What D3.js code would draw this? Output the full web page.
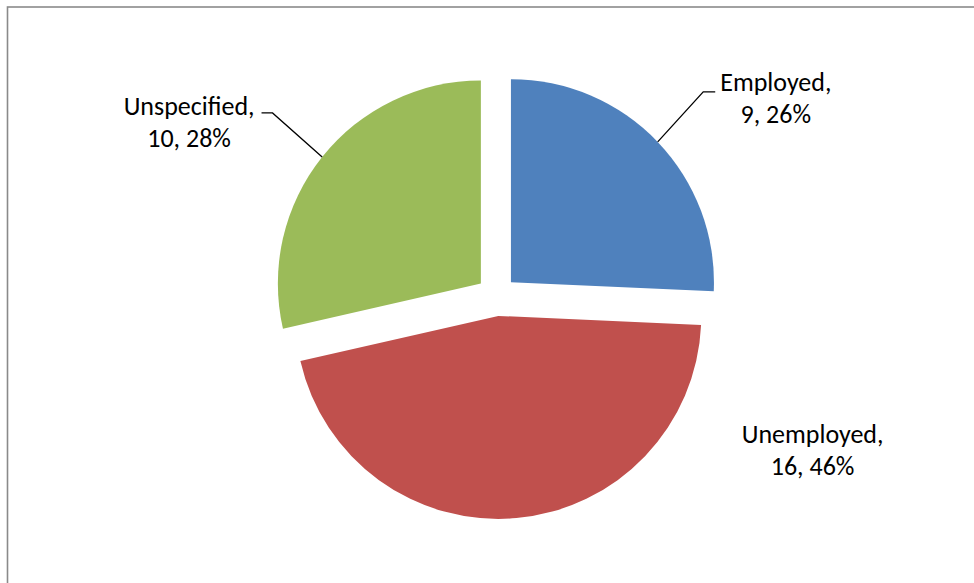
<!DOCTYPE html>
<html>
<head>
<meta charset="utf-8">
<script src="https://cdn.jsdelivr.net/npm/d3@7/dist/d3.min.js"></script>
<style>
  html, body { margin: 0; padding: 0; background: #fff; }
  svg { display: block; }
  text { font-family: Carlito, Calibri, Lato, "Noto Sans", sans-serif; fill: #000; }
</style>
</head>
<body>
<svg id="chart" width="974" height="583"></svg>
<script>
// Employment status counts
const categories = ["Employed", "Unemployed", "Unspecified"];
const counts = [9, 16, 10];
const percentLabels = ["26%", "46%", "28%"];
const colors = ["#4F81BD", "#C0504D", "#9BBB59"];

// Layout
const W = 974, H = 583;
const cx = 496.5, cy = 296;
const radius = 203;
const explode = 20;
// first-line baseline of each label, relative to pie centre:
// [angle in degrees clockwise from 12 o'clock, distance]
const labelPolar = [[53.7, 346.6], [114.9, 348.5], [300.5, 356.8]];
const showLeader = [true, false, true];
const lineGap = 32.5;
const fontSize = 26;

const svg = d3.select("#chart");

// chart area frame
svg.append("rect")
  .attr("x", 7.5).attr("y", 7)
  .attr("width", W + 20).attr("height", H + 20)
  .attr("fill", "#fff")
  .attr("stroke", "#8a8a8a")
  .attr("stroke-width", 1.6);

const data = categories.map((c, i) => ({ name: c, value: counts[i], pct: percentLabels[i], color: colors[i], i }));

const pie = d3.pie().value(d => d.value).sort(null).startAngle(0);
const arcs = pie(data);
const arc = d3.arc().innerRadius(0).outerRadius(radius);

const g = svg.append("g").attr("transform", `translate(${cx},${cy})`);

const offset = a => {
  const mid = (a.startAngle + a.endAngle) / 2;
  return [Math.sin(mid) * explode, -Math.cos(mid) * explode];
};

g.selectAll("path.slice")
  .data(arcs)
  .join("path")
  .attr("class", "slice")
  .attr("transform", d => { const [dx, dy] = offset(d); return `translate(${dx},${dy})`; })
  .attr("d", arc)
  .attr("fill", d => d.data.color);

// data labels
const labels = g.selectAll("g.label")
  .data(arcs)
  .join("g")
  .attr("class", "label");

const labelXY = i => {
  const [deg, dist] = labelPolar[i];
  const r = deg * Math.PI / 180;
  return [Math.sin(r) * dist, -Math.cos(r) * dist];
};

labels.each(function (d) {
  const i = d.data.i;
  const [lx, ly] = labelXY(i);
  const sel = d3.select(this);
  const t = sel.append("text")
    .attr("text-anchor", "middle")
    .attr("font-size", fontSize);
  t.append("tspan").attr("x", lx).attr("y", ly).text(d.data.name + ",");
  t.append("tspan").attr("x", lx).attr("y", ly + lineGap).text(d.value + ", " + d.data.pct);

  if (showLeader[i]) {
    const [dx, dy] = offset(d);
    const mid = (d.startAngle + d.endAngle) / 2;
    const p0 = [dx + Math.sin(mid) * radius, dy - Math.cos(mid) * radius];
    const bbox = t.node().getBBox();
    const right = lx > 0;
    const yLine = right ? ly + 1 : ly - 2;
    const end = right ? bbox.x - 5 : bbox.x + bbox.width + 7;
    const elbow = right ? end - 12 : end + 11;
    sel.append("polyline")
      .attr("points", [p0, [elbow, yLine], [end, yLine]].map(p => p.join(",")).join(" "))
      .attr("fill", "none")
      .attr("stroke", "#000")
      .attr("stroke-width", 1.3);
  }
});
</script>
</body>
</html>
